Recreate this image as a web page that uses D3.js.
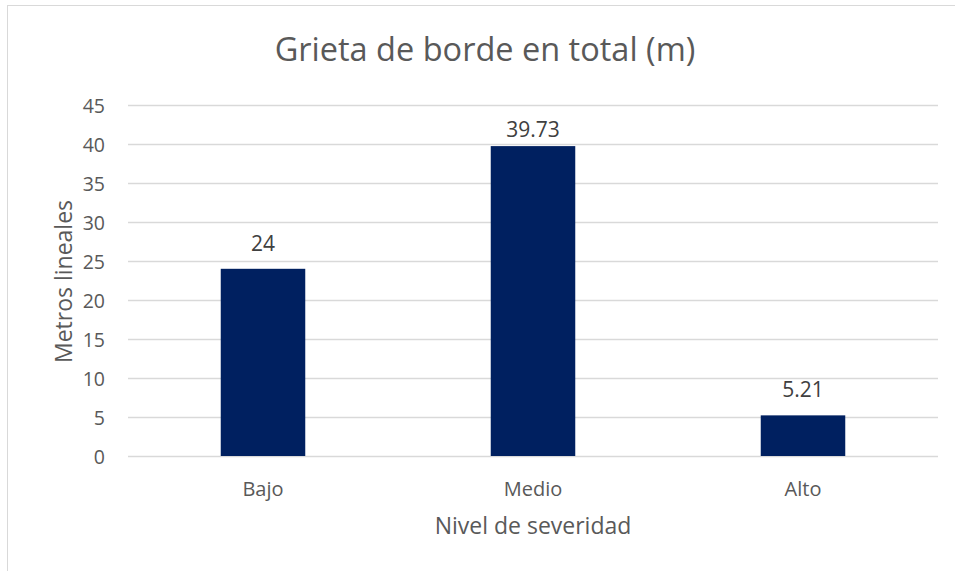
<!DOCTYPE html>
<html>
<head>
<meta charset="utf-8">
<script src="https://cdn.jsdelivr.net/npm/d3@7"></script>
<style>
  html, body { margin: 0; padding: 0; background: #fff; }
  svg { display: block; }
</style>
</head>
<body>
<div id="chart"></div>
<script>
// Grieta de borde: total length per severity level
const categories = ["Bajo", "Medio", "Alto"];
const values = [24, 39.73, 5.21];
const valueLabels = ["24", "39.73", "5.21"];
const yTicks = [0, 5, 10, 15, 20, 25, 30, 35, 40, 45];

const W = 955, H = 571;
const font = "'Open Sans', 'Liberation Sans', sans-serif";
const textColor = "#595959";
const barColor = "#002060";

const svg = d3.select("#chart").append("svg")
  .attr("width", W).attr("height", H);

// chart frame
svg.append("rect")
  .attr("x", 7.5).attr("y", 5.5)
  .attr("width", 1000).attr("height", 1000)
  .attr("fill", "#fff").attr("stroke", "#d9d9d9").attr("stroke-width", 1);

const plot = { left: 128, right: 938, top: 105, bottom: 456 };

const x = d3.scaleBand()
  .domain(categories)
  .range([plot.left, plot.right])
  .paddingInner(0.687)
  .paddingOuter(0.3435);

const y = d3.scaleLinear()
  .domain([0, 45])
  .range([plot.bottom, plot.top]);

// horizontal gridlines
svg.append("g")
  .selectAll("line")
  .data(yTicks)
  .join("line")
  .attr("x1", plot.left).attr("x2", plot.right)
  .attr("y1", d => Math.round(y(d)) + 0.5)
  .attr("y2", d => Math.round(y(d)) + 0.5)
  .attr("stroke", "#d9d9d9").attr("stroke-width", 1.5);

// y axis labels
const yAxis = d3.axisLeft(y).tickValues(yTicks).tickSize(0).tickPadding(0);
const gy = svg.append("g")
  .attr("transform", `translate(${plot.left - 23},0)`)
  .call(yAxis);
gy.select(".domain").remove();
gy.selectAll("text")
  .attr("fill", textColor)
  .style("font-family", font)
  .style("font-size", "19.5px")
  .attr("dy", "0.36em");

// bars
svg.append("g")
  .selectAll("rect")
  .data(categories)
  .join("rect")
  .attr("x", d => x(d))
  .attr("width", x.bandwidth())
  .attr("y", (d, i) => y(values[i]))
  .attr("height", (d, i) => y(0) - y(values[i]))
  .attr("fill", barColor);

// value labels sit above each bar, kept inside the plot area
const labelGap = 18;
const labelMinBaseline = plot.top + 31.5;
svg.append("g")
  .selectAll("text")
  .data(categories)
  .join("text")
  .attr("x", d => x(d) + x.bandwidth() / 2)
  .attr("y", (d, i) => Math.max(y(values[i]) - labelGap, labelMinBaseline))
  .attr("text-anchor", "middle")
  .attr("fill", "#404040")
  .style("font-family", font)
  .style("font-size", "21px")
  .text((d, i) => valueLabels[i]);

// x axis category labels
const xAxis = d3.axisBottom(x).tickSize(0).tickPadding(0);
const gx = svg.append("g")
  .attr("transform", `translate(0,496)`)
  .call(xAxis);
gx.select(".domain").remove();
gx.selectAll("text")
  .attr("fill", textColor)
  .style("font-family", font)
  .style("font-size", "20px")
  .attr("dy", "0");

// title
svg.append("text")
  .attr("x", 485).attr("y", 61)
  .attr("text-anchor", "middle")
  .attr("fill", textColor)
  .style("font-family", font)
  .style("font-size", "32.5px")
  .text("Grieta de borde en total (m)");

// axis titles
svg.append("text")
  .attr("x", (plot.left + plot.right) / 2).attr("y", 534)
  .attr("text-anchor", "middle")
  .attr("fill", textColor)
  .style("font-family", font)
  .style("font-size", "23px")
  .text("Nivel de severidad");

svg.append("text")
  .attr("transform", `translate(72,281.5) rotate(-90)`)
  .attr("text-anchor", "middle")
  .attr("fill", textColor)
  .style("font-family", font)
  .style("font-size", "23px")
  .text("Metros lineales");
</script>
</body>
</html>
